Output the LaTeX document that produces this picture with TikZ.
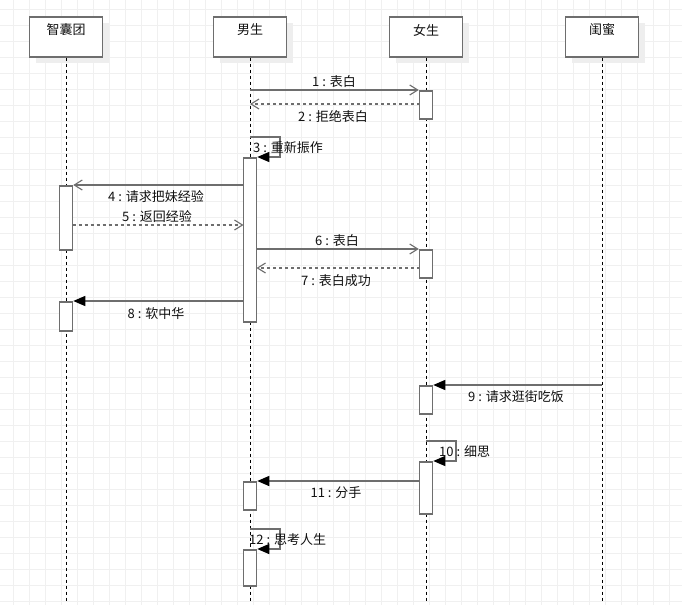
\documentclass[tikz,border=0pt]{standalone}
\usepackage{fontspec}
\setmainfont{Noto Sans CJK SC}
\usetikzlibrary{arrows.meta,shadows}
\definecolor{ln}{HTML}{6E6E6E}
\definecolor{gridc}{HTML}{F0F0F0}
\definecolor{shad}{HTML}{EEEEEE}
\definecolor{txt}{HTML}{111111}
\tikzset{
 head/.style={draw=ln, line width=1.5pt, fill=white, minimum width=73pt, minimum height=40pt, inner sep=0pt, anchor=north,
   general shadow={fill=shad, shadow xshift=6pt, shadow yshift=-6pt}},
 life/.style={black, line width=1pt, dash pattern=on 3pt off 3pt},
 actbar/.style={draw=ln, line width=1.5pt, fill=white, minimum width=13pt, inner sep=0pt, anchor=north},
 msg/.style={draw=ln, line width=1.3pt, -{Straight Barb[length=8pt,width=10pt,line width=1.1pt]}},
 ret/.style={msg, dash pattern=on 3pt off 3pt},
 sync/.style={draw=ln, line width=1.3pt, -{Triangle[length=12pt,width=10pt,fill=black,color=black]}},
 lbl/.style={font=\fontsize{13}{15}\selectfont, text=txt, inner sep=0pt},
}
\begin{document}
\begin{tikzpicture}[x=1pt,y=-1pt]
\useasboundingbox[fill=white] (0,0) rectangle (682,605);
% grid
\foreach \gx in {13,29,...,669} \draw[gridc, line width=1pt] (\gx,0) -- (\gx,605);
\foreach \gy in {9,25,...,601} \draw[gridc, line width=1pt] (0,\gy) -- (682,\gy);
% heads
\node[head] (h1) at (66,16) {};
\node[head] (h2) at (250,16) {};
\node[head] (h3) at (426,16) {};
\node[head] (h4) at (602,16) {};
\node[lbl] (t1) at (66,30) {智囊团};
\node[lbl] (t2) at (250,30) {男生};
\node[lbl] (t3) at (426,30) {女生};
\node[lbl] (t4) at (602,30) {闺蜜};
% lifeline ends
\coordinate (e1) at (66,601);
\coordinate (e2) at (250,601);
\coordinate (e3) at (426,601);
\coordinate (e4) at (602,601);
\draw[life] (h1.south) -- (e1);
\draw[life] (h2.south) -- (e2);
\draw[life] (h3.south) -- (e3);
\draw[life] (h4.south) -- (e4);
% activation bars
\node[actbar, minimum height=28pt] (a1) at (426,90) {};
\node[actbar, minimum height=164pt] (b1) at (250,157) {};
\node[actbar, minimum height=64pt] (c1) at (66,185) {};
\node[actbar, minimum height=28pt] (a2) at (426,249) {};
\node[actbar, minimum height=29pt] (c2) at (66,301) {};
\node[actbar, minimum height=28pt] (a3) at (426,385) {};
\node[actbar, minimum height=52pt] (a4) at (426,461) {};
\node[actbar, minimum height=28pt] (b2) at (250,481) {};
\node[actbar, minimum height=36pt] (b3) at (250,549) {};
% message endpoints
\coordinate (s1) at (250,90);
\coordinate (s2a) at (419.5,104);
\coordinate (s2b) at (250,104);
\coordinate (s3a) at (250,137);
\coordinate (s3b) at (280,157);
\coordinate (s5a) at (72.5,225);
\coordinate (s5b) at (243.5,225);
\coordinate (s6) at (256.5,249);
\coordinate (s7a) at (419.5,268);
\coordinate (s7b) at (256.5,268);
\coordinate (s8) at (243.5,301);
\coordinate (s9) at (602,385);
\coordinate (s10a) at (426,441);
\coordinate (s10b) at (456,461);
\coordinate (s11) at (419.5,481);
\coordinate (s12a) at (250,529);
\coordinate (s12b) at (280,549);
% messages
\draw[msg] (s1) -- (a1.north west);
\draw[ret] (s2a) -- (s2b);
\draw[sync] (s3a) -| (s3b) -- (b1.north east);
\draw[msg] (b1.north west |- c1.north) -- (c1.north east);
\draw[ret] (s5a) -- (s5b);
\draw[msg] (s6) -- (a2.north west);
\draw[ret] (s7a) -- (s7b);
\draw[sync] (s8) -- (c2.north east);
\draw[sync] (s9) -- (a3.north east);
\draw[sync] (s10a) -| (s10b) -- (a4.north east);
\draw[sync] (s11) -- (b2.north east);
\draw[sync] (s12a) -| (s12b) -- (b3.north east);
% labels
\node[lbl] (l1) at (334,81.5) {1 : 表白};
\node[lbl] (l2) at (333,116.5) {2 : 拒绝表白};
\node[lbl, anchor=west] (l3) at (253,147.5) {3 : 重新振作};
\node[lbl] (l4) at (156,196.5) {4 : 请求把妹经验};
\node[lbl] (l5) at (157,216.5) {5 : 返回经验};
\node[lbl] (l6) at (337,240.5) {6 : 表白};
\node[lbl] (l7) at (336,280.5) {7 : 表白成功};
\node[lbl] (l8) at (156,313.5) {8 : 软中华};
\node[lbl] (l9) at (516,396.5) {9 : 请求逛街吃饭};
\node[lbl, anchor=west] (l10) at (439,451.5) {10 : 细思};
\node[lbl] (l11) at (336,492.5) {11 : 分手};
\node[lbl, anchor=west] (l12) at (249,539.5) {12 : 思考人生};
\end{tikzpicture}
\end{document}
